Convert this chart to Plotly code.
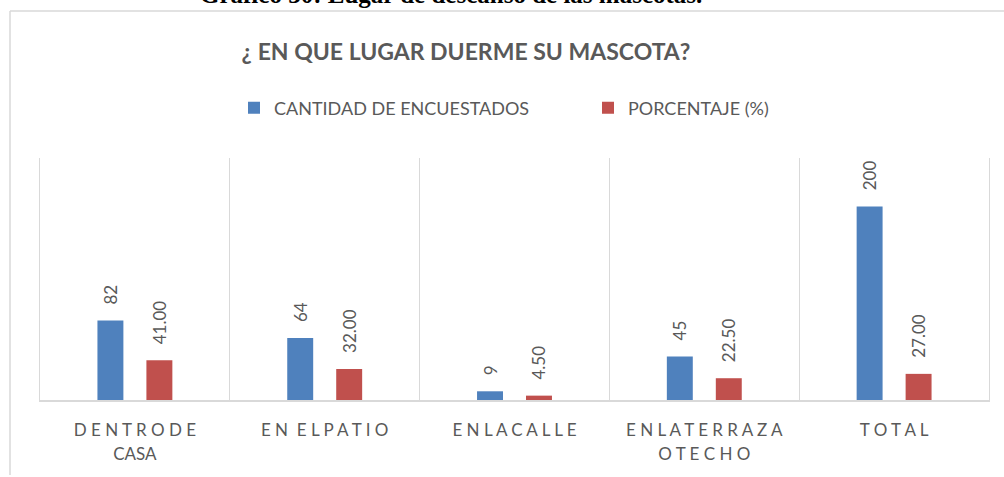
import plotly.graph_objects as go

categories = ["D E N T R O D E<br>CASA", "E N  E L P A T I O", "E N L A C A L L E",
              "E N L A T E R R A Z A<br>O T E C H O", "T O T A L"]
cantidad = [82, 64, 9, 45, 200]
porcentaje = [41.00, 32.00, 4.50, 22.50, 27.00]
series_names = ["CANTIDAD DE ENCUESTADOS", "PORCENTAJE (%)"]

FONT = "Lato, 'Open Sans', sans-serif"
GRAY = "#595959"
PAD = "\u00a0\u00a0\u00a0"

tick_text = ["<br>".join(f"<span style='font-size:17px'>{part}</span>" for part in c.split("<br>"))
             for c in categories]

fig = go.Figure()
fig.add_trace(go.Bar(
    x=categories, y=cantidad, name=series_names[0],
    marker=dict(color="#4f81bd", line=dict(width=0)),
    text=[PAD + f"{v:d}" for v in cantidad], textposition="outside",
    textangle=-90, textfont=dict(family=FONT, size=17, color=GRAY),
    constraintext="none", cliponaxis=False,
))
fig.add_trace(go.Bar(
    x=categories, y=porcentaje, name=series_names[1],
    marker=dict(color="#c0504d", line=dict(width=0)),
    text=[PAD + f"{v:.2f}" for v in porcentaje], textposition="outside",
    textangle=-90, textfont=dict(family=FONT, size=17, color=GRAY),
    constraintext="none", cliponaxis=False,
))

fig.update_layout(
    width=1004, height=477,
    margin=dict(l=40, r=15, t=158, b=77, autoexpand=False),
    paper_bgcolor="white", plot_bgcolor="white",
    barmode="group", bargap=0.484, bargroupgap=0.47,
    font=dict(family=FONT, color=GRAY),
    title=dict(text="<b>¿ EN QUE LUGAR DUERME SU MASCOTA?</b>",
               x=466 / 1004, xanchor="center", y=1 - 52 / 477, yanchor="middle",
               font=dict(family=FONT, size=23, color=GRAY)),
    legend=dict(orientation="h", x=(249 - 15 - 40) / 949, xanchor="left",
                y=1 + 50 / 242, yanchor="middle",
                font=dict(family=FONT, size=18, color=GRAY),
                entrywidth=309, itemwidth=30, traceorder="normal"),
    xaxis=dict(tickson="boundaries", showgrid=True, gridcolor="#d9d9d9", gridwidth=1,
               showline=True, linecolor="#d9d9d9", linewidth=1.5,
               tickmode="array", tickvals=categories, ticktext=tick_text,
               ticks="", ticklabelstandoff=11, automargin=False,
               tickfont=dict(family=FONT, size=19, color=GRAY)),
    yaxis=dict(range=[0, 250], showgrid=False, zeroline=False, showticklabels=False,
               showline=True, linecolor="#d9d9d9", linewidth=1, mirror=True, ticks="",
               automargin=False),
    shapes=[
        dict(type="line", xref="paper", yref="paper",
             x0=-30 / 949, x1=1.05, y0=1 + 147 / 242, y1=1 + 147 / 242,
             line=dict(color="#d9d9d9", width=1.5)),
        dict(type="line", xref="paper", yref="paper",
             x0=-30 / 949, x1=-30 / 949, y0=1 + 147 / 242, y1=-75 / 242,
             line=dict(color="#d9d9d9", width=1.5)),
    ],
    annotations=[
        dict(text="<b>Gráfico 30: Lugar de descanso de las mascotas.</b>",
             xref="paper", yref="paper", x=(451 - 40) / 949, y=1 + 158 / 242,
             xanchor="center", yanchor="middle", yshift=6, showarrow=False,
             font=dict(family="Liberation Serif, serif", size=25, color="black")),
    ],
)

fig.write_html("out.html", config={"displayModeBar": False},
               post_script="document.body.style.margin='0';")
